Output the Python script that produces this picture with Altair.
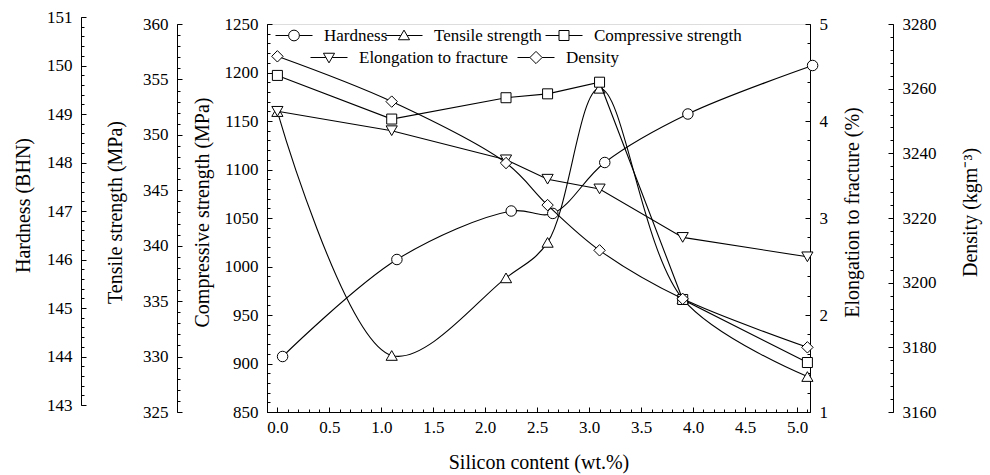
import altair as alt
import pandas as pd

# ---------------- data ----------------
si = [0.0, 1.1, 2.2, 2.6, 3.1, 3.9, 5.1]
si_hardness = [0.05, 1.15, 2.25, 2.65, 3.15, 3.95, 5.15]
hardness = [144.0, 146.0, 147.0, 146.95, 148.0, 149.0, 150.0]
tensile = [352.1, 330.1, 337.1, 340.3, 354.2, 335.2, 328.2]
compressive = [1197, 1152, 1174, 1178, 1190, 966, 901]
elongation = [4.1, 3.9, 3.6, 3.4, 3.3, 2.8, 2.6]
density = [3270, 3256, 3237, 3224, 3210, 3195, 3180]

series_names = ["Hardness", "Tensile strength", "Compressive strength",
                "Elongation to fracture", "Density"]
axis_titles = ["Hardness (BHN)", "Tensile strength (MPa)", "Compressive strength (MPa)",
               "Elongation to fracture (%)", "Density (kgm\u207b\u00b3)"]
x_title = "Silicon content (wt.%)"

x_domain = [-0.1, 5.125]
x_major = [0.0, 0.5, 1.0, 1.5, 2.0, 2.5, 3.0, 3.5, 4.0, 4.5, 5.0]
x_minor = [round(0.1 * i, 2) for i in range(-1, 52)]

hard_dom, hard_major = [143, 151], [143, 144, 145, 146, 147, 148, 149, 150, 151]
hard_minor = [round(143 + 0.2 * i, 2) for i in range(41)]
ten_dom, ten_major = [325, 360], [325, 330, 335, 340, 345, 350, 355, 360]
ten_minor = list(range(325, 361))
comp_dom, comp_major = [850, 1250], [850, 900, 950, 1000, 1050, 1100, 1150, 1200, 1250]
comp_minor = list(range(850, 1251, 10))
elo_dom, elo_major = [1, 5], [1, 2, 3, 4, 5]
elo_minor = [round(1 + 0.2 * i, 2) for i in range(21)]
den_dom, den_major = [3160, 3280], [3160, 3180, 3200, 3220, 3240, 3260, 3280]
den_minor = list(range(3160, 3281, 4))

# ---------------- layout / style ----------------
W, H = 543, 388
FONT = "Liberation Serif, Times New Roman, Times, serif"
LAB = 17
TIT = 20

P_CIRCLE = "M-1,0L-0.29,0M0.29,0L1,0M0.29,0A0.29,0.29,0,1,1,-0.29,0A0.29,0.29,0,1,1,0.29,0Z"
P_TRI_UP = "M-1,0L-0.17,0M0.17,0L1,0M0,-0.29L0.3,0.23L-0.3,0.23Z"
P_TRI_DN = "M-1,0L-0.17,0M0.17,0L1,0M0,0.29L0.3,-0.23L-0.3,-0.23Z"
P_SQUARE = "M-1,0L-0.27,0M0.27,0L1,0M-0.27,-0.27L0.27,-0.27L0.27,0.27L-0.27,0.27Z"
P_DIAM = "M-1,0L-0.33,0M0.33,0L1,0M0,-0.33L0.33,0L0,0.33L-0.33,0Z"

specs = [
    dict(name=series_names[0], title=axis_titles[0], xs=si_hardness, ys=hardness,
         dom=hard_dom, major=hard_major, minor=hard_minor, side="left", off=186, pos=-7,
         tx=-58, shape="circle", size=110, interp="catmull-rom", sym=P_CIRCLE, lx=8, ly=-7.5),
    dict(name=series_names[1], title=axis_titles[1], xs=si, ys=tensile,
         dom=ten_dom, major=ten_major, minor=ten_minor, side="left", off=90, pos=0,
         tx=-62, shape="triangle-up", size=125, interp="catmull-rom", sym=P_TRI_UP, lx=118, ly=-7.5),
    dict(name=series_names[2], title=axis_titles[2], xs=si, ys=compressive,
         dom=comp_dom, major=comp_major, minor=comp_minor, side="left", off=0, pos=0,
         tx=-65, shape="square", size=100, interp="linear", sym=P_SQUARE, lx=278, ly=-7.5),
    dict(name=series_names[3], title=axis_titles[3], xs=si, ys=elongation,
         dom=elo_dom, major=elo_major, minor=elo_minor, side="right", off=0, pos=0,
         tx=42, shape="triangle-down", size=125, interp="linear", sym=P_TRI_DN, lx=43, ly=14.5),
    dict(name=series_names[4], title=axis_titles[4], xs=si, ys=density,
         dom=den_dom, major=den_major, minor=den_minor, side="right", off=83, pos=0,
         tx=77, shape="diamond", size=130, interp="catmull-rom", sym=P_DIAM, lx=250, ly=14.5),
]


def xs_scale():
    return alt.Scale(domain=x_domain, nice=False, zero=False)


def ys_scale(dom):
    return alt.Scale(domain=dom, nice=False, zero=False)


layers = []
for s in specs:
    posarg = {"position": s["pos"]} if s["pos"] != 0 else {}
    df = pd.DataFrame({"si": s["xs"], "value": s["ys"], "series": s["name"]})
    lab_axis = alt.Axis(
        orient=s["side"], offset=s["off"], values=s["major"], format="d",
        ticks=False, tickSize=0, labelPadding=9, domain=True, domainColor="black",
        domainWidth=1, grid=False, labelFont=FONT, labelFontSize=LAB, labelColor="black",
        title=s["title"], titleFont=FONT, titleFontSize=TIT, titleFontWeight="normal",
        titleColor="black", titleAngle=270, titleX=s["tx"], titleY=188,
        titleAlign="center", titleBaseline="middle", **posarg)
    legend = alt.Legend(
        orient="none", legendX=s["lx"], legendY=s["ly"], title=None, symbolType=s["sym"],
        symbolSize=1369, symbolStrokeWidth=1, symbolStrokeColor="black",
        symbolFillColor="white", symbolOpacity=1, labelFont=FONT, labelFontSize=LAB,
        labelColor="black", labelOffset=11, padding=0)
    yoff = s["pos"]
    line = alt.Chart(df).mark_line(
        interpolate=s["interp"], strokeWidth=1.1, yOffset=yoff
    ).encode(
        x=alt.X("si:Q", scale=xs_scale(), axis=None),
        y=alt.Y("value:Q", scale=ys_scale(s["dom"]), axis=lab_axis),
        color=alt.Color("series:N", scale=alt.Scale(range=["black"]), legend=legend),
    )
    pts = alt.Chart(df).mark_point(
        shape=s["shape"], size=s["size"], filled=True, fill="white", stroke="black",
        strokeWidth=1, opacity=1, yOffset=yoff
    ).encode(
        x=alt.X("si:Q", scale=xs_scale(), axis=None),
        y=alt.Y("value:Q", scale=ys_scale(s["dom"]), axis=None),
    )
    helper = pd.DataFrame({"si": x_domain, "value": s["dom"]})
    in_orient = "right" if s["side"] == "left" else "left"
    in_off = -(W + s["off"])
    tmaj = alt.Chart(helper).mark_point(opacity=0).encode(
        x=alt.X("si:Q", scale=xs_scale(), axis=None),
        y=alt.Y("value:Q", scale=ys_scale(s["dom"]), axis=alt.Axis(
            orient=in_orient, offset=in_off, values=s["major"], labels=False,
            domain=False, ticks=True, tickSize=5, tickColor="black", tickWidth=1,
            grid=False, title=None, **posarg)),
    )
    tmin = alt.Chart(helper).mark_point(opacity=0).encode(
        x=alt.X("si:Q", scale=xs_scale(), axis=None),
        y=alt.Y("value:Q", scale=ys_scale(s["dom"]), axis=alt.Axis(
            orient=in_orient, offset=in_off, values=s["minor"], labels=False,
            domain=False, ticks=True, tickSize=3, tickColor="black", tickWidth=1,
            grid=False, title=None, **posarg)),
    )
    layers += [line, pts, tmaj, tmin]

xhelp = pd.DataFrame({"si": x_domain, "value": [0, 1]})
x_lab = alt.Chart(xhelp).mark_point(opacity=0).encode(
    x=alt.X("si:Q", scale=xs_scale(), axis=alt.Axis(
        orient="bottom", values=x_major, format=".1f", ticks=False, tickSize=0,
        labelPadding=7, domain=True, domainColor="black", grid=False,
        labelFont=FONT, labelFontSize=LAB, labelColor="black",
        title=x_title, titleFont=FONT, titleFontSize=TIT, titleFontWeight="normal",
        titleColor="black", titleX=W / 2, titleY=50, titleAlign="center",
        titleBaseline="middle")),
    y=alt.Y("value:Q", axis=None),
)
x_maj = alt.Chart(xhelp).mark_point(opacity=0).encode(
    x=alt.X("si:Q", scale=xs_scale(), axis=alt.Axis(
        orient="top", offset=-H, values=x_major, labels=False, domain=False,
        ticks=True, tickSize=5, tickColor="black", grid=False, title=None)),
    y=alt.Y("value:Q", axis=None),
)
x_min = alt.Chart(xhelp).mark_point(opacity=0).encode(
    x=alt.X("si:Q", scale=xs_scale(), axis=alt.Axis(
        orient="top", offset=-H, values=x_minor, labels=False, domain=False,
        ticks=True, tickSize=3, tickColor="black", grid=False, title=None)),
    y=alt.Y("value:Q", axis=None),
)
layers += [x_lab, x_maj, x_min]

chart = alt.layer(*layers).resolve_scale(
    x="independent", y="independent", color="independent"
).properties(
    width=W, height=H,
    padding={"left": 267, "top": 24, "right": 990 - 267 - W, "bottom": 475 - 24 - H},
    autosize=alt.AutoSizeParams(type="none"),
    background="white",
).configure_view(stroke="black", strokeWidth=1).configure(font=FONT)

chart.save("out.html", embed_options={"renderer": "svg", "actions": False})
